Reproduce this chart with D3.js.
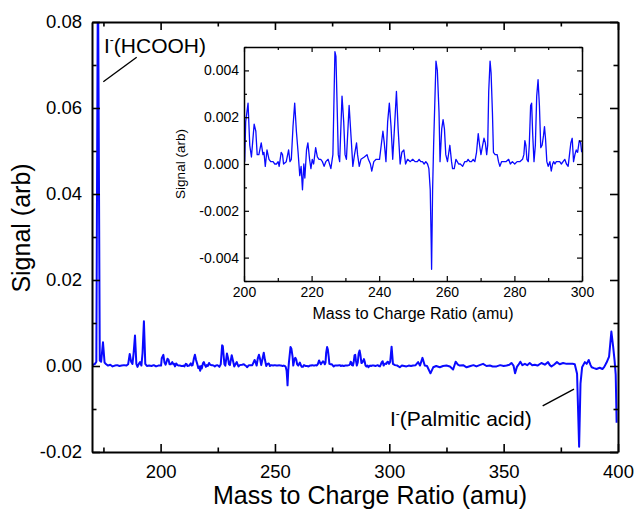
<!DOCTYPE html>
<html>
<head>
<meta charset="utf-8">
<script src="https://cdn.jsdelivr.net/npm/d3@7"></script>
<style>
  body { margin: 0; background: #fff; }
  text { font-family: Arial, "Liberation Sans", sans-serif; fill: #000; }
</style>
</head>
<body>
<svg id="chart" width="635" height="510"></svg>
<script>
// spectrum, split in three pieces
// 170-200 amu (main plot only)
const lowMass   = [170.0, 170.6, 171.3, 171.9, 172.6, 173.4, 174.0, 174.8, 175.5, 176.2, 177.0, 178.0, 179.0, 180.0, 181.0, 182.0, 183.0, 184.0, 185.0, 185.8, 186.5, 187.1, 187.7, 188.2, 188.8, 189.4, 189.9, 190.5, 191.0, 191.6, 192.1, 192.7, 193.3, 194.0, 195.0, 196.0, 197.0, 198.0, 199.0, 199.7];
const lowSignal = [0.0002, 0.0003, 0.0005, 0.0010, 0.0950, 0.0013, 0.0010, 0.0055, 0.0008, 0.0004, 0.0001, 0.0003, -0.0001, 0.0001, 0.0002, 0.0000, 0.0001, 0.0002, 0.0001, 0.0004, 0.0028, 0.0010, 0.0005, 0.0030, 0.0071, 0.0005, -0.0002, 0.0005, 0.0009, 0.0001, 0.0030, 0.0104, 0.0005, 0.0000, 0.0001, 0.0000, 0.0002, -0.0001, 0.0001, 0.0001];

// 200-300 amu (inset, also drawn in the main plot)
const insetMass = [200.2, 200.5, 201.2, 201.7, 202.2, 203.0, 203.5, 203.9, 204.4, 205.1, 205.6, 205.9, 206.3, 206.8, 207.4, 207.9, 208.6, 209.1, 209.6, 210.1, 210.4, 211.0, 211.4, 211.7, 212.5, 213.2, 213.6, 214.0, 214.5, 215.0, 215.5, 216.0, 216.5, 216.9, 217.3, 217.7, 218.0, 218.5, 218.9, 219.4, 219.8, 220.2, 220.6, 221.2, 221.7, 222.2, 222.7, 223.2, 223.7, 224.2, 224.9, 225.7, 226.3, 226.9, 227.2, 227.9, 228.3, 229.0, 229.5, 229.9, 230.3, 231.1, 231.7, 232.2, 232.7, 233.3, 233.6, 234.1, 234.6, 235.6, 236.4, 236.8, 237.4, 237.8, 238.4, 239.1, 240.1, 240.6, 241.1, 241.5, 242.0, 242.5, 243.0, 243.5, 244.0, 244.5, 245.1, 245.6, 246.2, 246.7, 247.3, 247.8, 248.4, 249.2, 249.9, 250.6, 251.3, 251.8, 252.3, 252.8, 253.3, 253.8, 254.3, 254.7, 255.1, 255.4, 255.5, 255.8, 256.1, 256.8, 257.2, 257.7, 258.0, 258.5, 258.9, 259.3, 259.7, 260.2, 260.9, 261.4, 261.7, 262.2, 262.7, 263.1, 263.5, 264.0, 264.7, 265.3, 265.9, 266.3, 266.8, 267.3, 267.8, 268.3, 268.8, 269.3, 269.7, 270.1, 270.6, 271.0, 271.4, 271.8, 272.1, 272.4, 272.8, 273.1, 273.5, 273.8, 274.3, 274.9, 275.3, 275.7, 276.2, 276.9, 277.5, 278.3, 278.8, 279.4, 280.1, 280.8, 281.6, 282.4, 282.8, 283.1, 283.4, 283.7, 284.1, 284.4, 284.8, 285.1, 285.4, 285.8, 286.2, 286.6, 287.0, 287.4, 287.8, 288.2, 288.6, 288.9, 289.2, 289.6, 290.0, 290.5, 290.9, 291.3, 291.6, 292.0, 292.4, 292.9, 293.4, 293.9, 294.4, 294.9, 295.4, 295.9, 296.3, 296.7, 297.1, 297.5, 297.9, 298.3, 298.7, 299.2, 299.6, 299.9];
const insetSignal = [0.0001, 0.0018, 0.0026, 0.0008, 0.0003, 0.0017, 0.0014, 0.0004, 0.0004, 0.0009, 0.0004, 0.0005, -0.0001, 0.0006, 0.0002, 0.0001, 0.0001, 0.0000, 0.0000, 0.0001, -0.0001, 0.0005, 0.0004, 0.0000, 0.0001, 0.0006, 0.0001, 0.0002, 0.0016, 0.0026, 0.0014, 0.0005, -0.0005, -0.0001, -0.0011, 0.0000, -0.0006, 0.0006, 0.0009, 0.0002, -0.0002, 0.0002, 0.0000, 0.0007, 0.0003, 0.0002, 0.0002, 0.0001, -0.0001, 0.0001, 0.0002, -0.0002, 0.0004, 0.0048, 0.0046, 0.0004, 0.0001, 0.0029, 0.0018, 0.0004, 0.0002, 0.0025, 0.0011, -0.0001, 0.0004, 0.0009, 0.0004, -0.0001, 0.0002, 0.0003, 0.0004, 0.0002, 0.0000, -0.0003, 0.0001, 0.0002, 0.0002, 0.0008, 0.0014, 0.0009, 0.0001, 0.0018, 0.0026, 0.0016, 0.0002, 0.0015, 0.0031, 0.0015, 0.0000, 0.0005, 0.0006, 0.0000, 0.0002, 0.0001, 0.0002, 0.0001, 0.0001, 0.0002, 0.0001, 0.0001, 0.0000, 0.0001, 0.0000, -0.0002, -0.0011, -0.0035, -0.0045, -0.0011, 0.0008, 0.0044, 0.0040, 0.0022, 0.0001, 0.0015, 0.0019, 0.0015, 0.0004, 0.0001, 0.0008, 0.0001, -0.0002, -0.0002, 0.0002, 0.0001, 0.0000, 0.0000, -0.0001, 0.0001, 0.0001, 0.0002, 0.0001, 0.0001, 0.0002, 0.0001, 0.0005, 0.0013, 0.0008, 0.0004, 0.0008, 0.0011, 0.0009, 0.0004, 0.0008, 0.0031, 0.0044, 0.0039, 0.0022, 0.0005, 0.0004, 0.0004, 0.0001, -0.0001, 0.0001, 0.0001, 0.0001, 0.0002, 0.0000, 0.0001, 0.0000, 0.0001, 0.0001, 0.0002, 0.0004, 0.0010, 0.0008, 0.0002, 0.0001, 0.0008, 0.0025, 0.0026, 0.0013, 0.0001, 0.0008, 0.0029, 0.0036, 0.0025, 0.0007, 0.0008, 0.0012, 0.0016, 0.0011, 0.0001, -0.0001, 0.0001, -0.0003, 0.0000, 0.0001, 0.0000, 0.0001, 0.0001, 0.0001, 0.0000, 0.0001, 0.0002, 0.0000, -0.0001, 0.0004, 0.0009, 0.0011, 0.0001, 0.0004, 0.0006, 0.0005, 0.0010, 0.0009, 0.0005];

// 300-400 amu (main plot only)
const highMass   = [300.4, 301.0, 301.6, 302.5, 303.5, 304.6, 305.5, 306.5, 307.5, 308.5, 309.5, 310.4, 311.5, 312.6, 313.4, 314.5, 315.5, 316.5, 318.0, 319.2, 320.5, 322.1, 323.5, 325.0, 326.5, 327.9, 329.0, 330.0, 330.8, 332.3, 333.8, 335.5, 336.8, 338.1, 339.5, 341.0, 342.5, 344.0, 345.2, 346.9, 348.5, 350.0, 351.3, 352.5, 353.4, 354.3, 355.0, 355.8, 356.5, 357.3, 358.2, 359.3, 360.3, 361.4, 362.5, 363.6, 364.8, 366.5, 368.0, 369.4, 370.2, 370.9, 372.0, 373.3, 374.5, 376.0, 377.5, 378.9, 380.2, 381.1, 382.1, 383.0, 383.6, 384.3, 385.5, 386.3, 387.2, 388.0, 388.5, 389.5, 390.6, 392.0, 393.2, 394.0, 395.0, 396.1, 397.1, 397.9, 398.5, 399.0, 399.4];
const highSignal = [0.0010, 0.0045, 0.0005, 0.0002, 0.0001, -0.0003, 0.0001, 0.0000, -0.0001, 0.0001, 0.0000, 0.0001, 0.0002, 0.0009, 0.0001, 0.0019, 0.0001, 0.0000, -0.0017, -0.0003, 0.0000, -0.0003, 0.0000, 0.0001, -0.0001, -0.0008, 0.0010, 0.0003, 0.0001, 0.0002, -0.0003, 0.0000, 0.0002, -0.0001, 0.0002, 0.0005, 0.0000, 0.0001, -0.0001, -0.0001, 0.0002, 0.0000, 0.0001, 0.0003, 0.0007, 0.0001, -0.0017, -0.0002, 0.0003, 0.0010, 0.0002, 0.0005, 0.0002, 0.0007, 0.0002, 0.0003, 0.0001, 0.0007, 0.0003, 0.0009, 0.0002, -0.0001, 0.0003, 0.0009, 0.0004, 0.0007, 0.0005, 0.0005, 0.0005, 0.0004, -0.0018, -0.0188, -0.0041, -0.0003, 0.0009, 0.0005, 0.0014, 0.0002, -0.0003, -0.0005, -0.0007, -0.0004, -0.0007, -0.0002, 0.0008, 0.0022, 0.0080, 0.0044, 0.0013, -0.0020, -0.0132];

// axes
const mainXTicks = [200, 250, 300, 350, 400];
const mainXMinor = [175, 225, 275, 325, 375];
const mainYTicks = [-0.02, 0.00, 0.02, 0.04, 0.06, 0.08];
const mainYLabels = ["-0.02", "0.00", "0.02", "0.04", "0.06", "0.08"];
const mainYMinor = [-0.01, 0.01, 0.03, 0.05, 0.07];
const insetXTicks = [200, 220, 240, 260, 280, 300];
const insetXMinor = [210, 230, 250, 270, 290];
const insetYTicks = [-0.004, -0.002, 0.000, 0.002, 0.004];
const insetYLabels = ["-0.004", "-0.002", "0.000", "0.002", "0.004"];
const insetYMinor = [-0.005, -0.003, -0.001, 0.001, 0.003, 0.005];

// annotations in data units: text anchor and leader line
const notes = [
  { ion: "I", tag: "(HCOOH)", m: 175.25, s: 0.0728, line: [[174.94, 0.0661], [189.54, 0.0718]] },
  { ion: "I", tag: "(Palmitic acid)", m: 300.3, s: -0.0140, line: [[367.06, -0.0093], [380.75, -0.0054]] }
];

const blue = "#0a0aff";
const svg = d3.select("#chart");

const toPoints = (ms, vs) => ms.map((m, i) => [m, vs[i]]);
const mainData = toPoints(lowMass, lowSignal)
  .concat(toPoints(insetMass, insetSignal))
  .concat(toPoints(highMass, highSignal));
const insetData = toPoints(insetMass, insetSignal);

// draws a boxed frame with inward ticks on all four sides
function frame(g, x, y, o) {
  const [x0, x1] = x.range(), [y0, y1] = y.range();
  const sides = [
    [d3.axisBottom, x, y0, 0, true],
    [d3.axisTop, x, y1, 0, false],
    [d3.axisLeft, y, 0, x0, true],
    [d3.axisRight, y, 0, x1, false]
  ];
  sides.forEach(([mk, sc, ty, tx, labelled]) => {
    const horiz = sc === x;
    const major = horiz ? o.xTicks : o.yTicks;
    const minor = horiz ? o.xMinor : o.yMinor;
    const labels = horiz ? o.xLabels : o.yLabels;
    g.append("g")
      .attr("transform", `translate(${tx},${ty})`)
      .call(mk(sc).tickValues(minor).tickSize(-o.minor).tickSizeOuter(0).tickFormat(""))
      .call(a => a.select(".domain").remove())
      .selectAll("line").attr("stroke-width", o.tickW);
    const ax = g.append("g")
      .attr("transform", `translate(${tx},${ty})`)
      .call(mk(sc).tickValues(major).tickSize(-o.major).tickSizeOuter(0)
        .tickPadding(horiz ? o.padX : o.padY)
        .tickFormat(labelled ? (d, i) => labels[i] : ""));
    ax.select(".domain").attr("stroke-width", o.lineW);
    ax.selectAll("line").attr("stroke-width", o.tickW);
    ax.selectAll("text").attr("font-size", o.font).attr("font-family", null).attr("fill", "#000");
    ax.attr("font-family", null);
  });
}

// main plot
const x = d3.scaleLinear().domain([170, 400]).range([92, 618]);
const y = d3.scaleLinear().domain([-0.02, 0.08]).range([452, 22]);

svg.append("clipPath").attr("id", "clipMain")
  .append("rect").attr("x", 92).attr("y", 22).attr("width", 526).attr("height", 430);

svg.append("path")
  .datum(mainData)
  .attr("clip-path", "url(#clipMain)")
  .attr("fill", "none")
  .attr("stroke", blue)
  .attr("stroke-width", 2)
  .attr("stroke-linejoin", "round")
  .attr("d", d3.line().x(d => x(d[0])).y(d => y(d[1])));

frame(svg.append("g"), x, y, {
  xTicks: mainXTicks, xMinor: mainXMinor, xLabels: mainXTicks.map(String),
  yTicks: mainYTicks, yMinor: mainYMinor, yLabels: mainYLabels,
  major: 8, minor: 4.5, lineW: 2, tickW: 1.6, font: 18.5, padX: 13, padY: 10
});

svg.append("text")
  .attr("x", 370).attr("y", 504)
  .attr("text-anchor", "middle").attr("font-size", 25)
  .text("Mass to Charge Ratio (amu)");
svg.append("text")
  .attr("transform", "translate(30,228) rotate(-90)")
  .attr("text-anchor", "middle").attr("font-size", 25)
  .text("Signal (arb)");

// annotations
notes.forEach(n => {
  const t = svg.append("text")
    .attr("x", x(n.m)).attr("y", y(n.s)).attr("font-size", 21);
  t.append("tspan").text(n.ion);
  t.append("tspan").attr("dy", -8.5).attr("font-size", 12).text("-");
  t.append("tspan").attr("dy", 8.5).text(n.tag);
  svg.append("line")
    .attr("x1", x(n.line[0][0])).attr("y1", y(n.line[0][1]))
    .attr("x2", x(n.line[1][0])).attr("y2", y(n.line[1][1]))
    .attr("stroke", "#000").attr("stroke-width", 1.4);
});

// inset
const xi = d3.scaleLinear().domain([200, 300]).range([244, 582]);
const yi = d3.scaleLinear().domain([-0.005, 0.005]).range([281, 47]);

svg.append("rect")
  .attr("x", 244).attr("y", 47).attr("width", 338).attr("height", 234)
  .attr("fill", "#fff");

svg.append("clipPath").attr("id", "clipInset")
  .append("rect").attr("x", 244).attr("y", 47).attr("width", 338).attr("height", 234);

svg.append("path")
  .datum(insetData)
  .attr("clip-path", "url(#clipInset)")
  .attr("fill", "none")
  .attr("stroke", blue)
  .attr("stroke-width", 1.3)
  .attr("stroke-linejoin", "round")
  .attr("d", d3.line().x(d => xi(d[0])).y(d => yi(d[1])));

frame(svg.append("g"), xi, yi, {
  xTicks: insetXTicks, xMinor: insetXMinor, xLabels: insetXTicks.map(String),
  yTicks: insetYTicks, yMinor: insetYMinor, yLabels: insetYLabels,
  major: 5, minor: 3, lineW: 1.5, tickW: 1.2, font: 14, padX: 6, padY: 5
});

svg.append("text")
  .attr("x", 413).attr("y", 319)
  .attr("text-anchor", "middle").attr("font-size", 16)
  .text("Mass to Charge Ratio (amu)");
svg.append("text")
  .attr("transform", "translate(185,164) rotate(-90)")
  .attr("text-anchor", "middle").attr("font-size", 13.5)
  .text("Signal (arb)");
</script>
</body>
</html>
